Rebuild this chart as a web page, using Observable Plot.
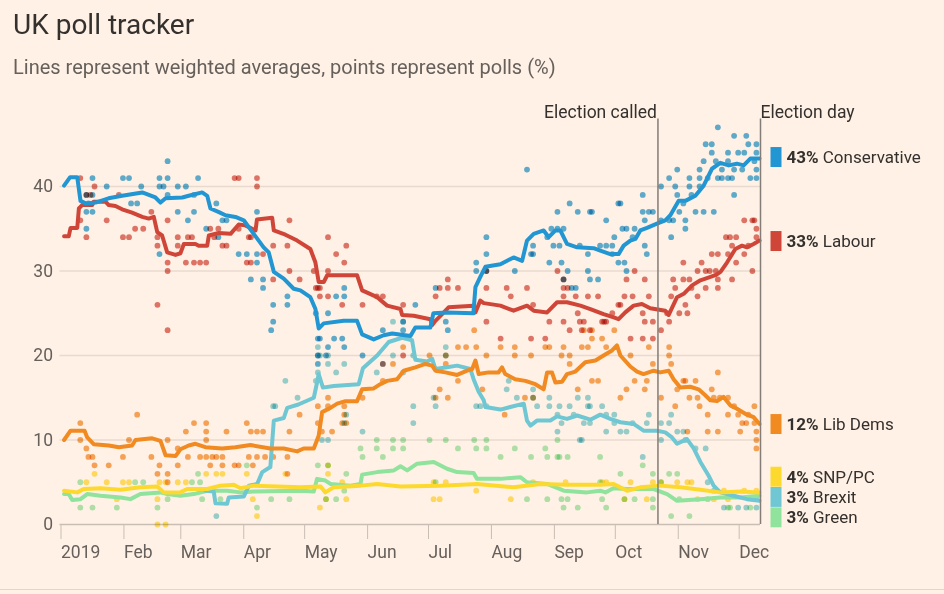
<!DOCTYPE html>
<html><head><meta charset="utf-8">
<script src="https://cdn.jsdelivr.net/npm/d3@7"></script>
<script src="https://cdn.jsdelivr.net/npm/@observablehq/plot@0.6"></script>
<style>
html,body{margin:0;padding:0;background:#fff1e5;}
body{width:944px;height:594px;overflow:hidden;position:relative;font-family:Roboto,sans-serif;}
#title{position:absolute;left:13px;top:8px;font-size:28px;color:#33302e;white-space:nowrap;}
#subtitle{position:absolute;left:13px;top:55px;font-size:20px;color:#66605c;white-space:nowrap;}
#chart{position:absolute;left:0;top:90px;}
#rule{position:absolute;left:0;top:589px;width:944px;height:1px;background:#e3d6ca;}
</style></head>
<body>
<div id="title">UK poll tracker</div>
<div id="subtitle">Lines represent weighted averages, points represent polls (%)</div>
<div id="chart"></div>
<div id="rule"></div>
<script>
// ---- DATA (day = days after 1 Jan 2019) ----
const parties = ["Conservative","Labour","Lib Dems","SNP/PC","Brexit","Green"];
const colors  = ["#2196d3","#cf4639","#f08a21","#fdd92e","#6fc7d3","#8fe39c"];
const finalPct = [43,33,12,4,3,3];
const labelY  = [43.43,33.49,11.83,5.6,3.2,0.79];
const monthTickLabels = ["2019","Feb","Mar","Apr","May","Jun","Jul","Aug","Sep","Oct","Nov","Dec"];
const eventNames = ["Election called","Election day"];
const eventDays  = [294.5,345];
const yTicks = [0,10,20,30,40];

const conLine = [[2,40.1],[5,41.1],[8.5,41.1],[10.1,38.3],[12.6,38.0],[17.5,38.1],[23.9,38.6],[30.6,38.9],[40.5,39.3],[47,38.7],[49.5,38.1],[52,38.6],[60.2,38.7],[63.4,38.9],[70,39.3],[72.5,38.9],[74.1,37.4],[78,37.0],[81.5,36.6],[86.4,36.4],[90.5,36.0],[95.4,34.4],[100.3,32.8],[102.8,32.2],[105.3,29.9],[110.2,29.1],[115.1,27.9],[118.4,27.7],[123.3,26.9],[125.8,25.5],[127.4,23.2],[129.9,23.8],[139.7,24.1],[146.3,24.1],[148.8,22.5],[154.5,21.9],[159.4,22.4],[163.6,22.6],[172.6,22.3],[175,23.3],[182.4,23.3],[183.9,25.0],[190.6,25.1],[203.6,25.0],[204.6,28.1],[207,29.3],[209.5,30.5],[216.9,30.8],[223.4,31.6],[227.6,31.2],[230,33.6],[233.3,34.4],[238.2,34.8],[240.7,34.0],[244,34.8],[246.4,34.8],[249.7,33.2],[254.7,32.8],[262.8,32.7],[266.1,32.4],[271,32.0],[275.1,32.0],[277.6,33.0],[280.9,33.6],[283.4,33.8],[285.8,34.8],[289.1,35.1],[294,35.6],[298.1,36.0],[300.6,36.6],[304.7,38.3],[308,38.3],[312.9,38.9],[317,40.1],[321.1,42.1],[325.2,42.8],[329.3,42.5],[333.4,42.7],[336.7,42.5],[340,43.3],[344.5,43.3]];
const labLine = [[2,34.1],[4.3,34.1],[5.2,35.1],[8.5,35.1],[9.3,37.4],[10.9,37.8],[15.9,37.8],[16.6,38.2],[22.4,38.2],[24,37.8],[27.3,37.7],[30.6,37.3],[35.5,36.9],[40.5,36.4],[43.7,36.2],[46.2,36.4],[47.9,34.6],[50.3,34.2],[52.8,32.2],[56.9,31.9],[59.3,32.1],[61,33.2],[66.7,33.2],[68.3,33.0],[72.5,33.0],[73.3,34.2],[78.2,34.5],[84,34.4],[88,35.5],[91.3,35.4],[96.3,34.8],[97,36.1],[104.5,36.3],[105.3,34.8],[111,34.3],[116.8,33.6],[123.3,32.6],[125.8,31.0],[127.4,28.7],[129.9,28.7],[131.6,29.5],[146.3,29.5],[148.8,27.7],[156.2,26.9],[161.1,25.9],[167.7,25.5],[168.5,24.8],[174.2,24.7],[182.4,24.3],[183.3,23.6],[184.9,24.1],[188.2,24.9],[191.4,25.7],[203.7,25.9],[204.6,25.1],[207,26.5],[208.7,26.2],[216.9,25.9],[223.4,25.3],[230,25.9],[233.3,25.3],[239.9,25.1],[244.8,26.3],[249.7,26.3],[256.3,25.9],[261.2,25.5],[267.7,24.9],[272.7,24.5],[275.1,24.3],[278.4,25.1],[282.5,25.9],[286.6,26.1],[290.7,25.6],[298.1,25.3],[299.8,24.8],[303.9,26.9],[307.2,27.3],[311.3,28.3],[315.4,28.9],[317.9,29.1],[322.8,29.5],[325.3,29.9],[328.5,31.0],[332.6,32.6],[335.9,33.0],[338.3,32.8],[341.6,33.2],[344.5,33.6]];
const ldLine = [[2,10.0],[5.2,11.1],[12.1,11.1],[13.4,10.3],[16.6,9.5],[24,9.35],[29,9.15],[35.5,9.35],[37.2,10.0],[45.4,10.2],[49.5,9.9],[52,8.2],[56.9,8.1],[59.3,8.9],[63.4,9.35],[66.7,9.55],[71.6,9.15],[79.9,9.0],[86.4,9.15],[93.8,9.4],[103.6,9.0],[110.2,9.0],[116.8,8.65],[120,9.0],[125,9.0],[127.4,10.5],[129.1,13.3],[133.2,13.8],[136.5,14.3],[140.6,14.6],[146.3,14.6],[148.8,16.0],[154.5,16.1],[157,16.5],[161.1,17.0],[166,17.2],[169.3,18.2],[175,18.6],[180,19.0],[183.3,18.8],[184.9,18.2],[189.8,18.0],[195.6,17.7],[200.5,18.2],[203,18.4],[204.6,19.4],[206.2,17.8],[211.1,18.0],[216,18.0],[217.7,18.6],[219.3,17.8],[224.2,17.2],[229.2,17.0],[234.1,16.6],[238.2,16.0],[239.9,18.0],[242.3,18.0],[244,16.8],[247.3,16.9],[249.7,17.8],[253.8,18.1],[258.7,19.2],[263.7,19.4],[267.7,20.0],[271.9,20.6],[274.3,21.2],[276,20.0],[280.9,18.7],[284.2,18.1],[287.4,17.8],[292.4,18.2],[295.6,18.0],[299.8,18.2],[302.2,17.2],[305.5,16.2],[310.4,16.3],[314.5,16.0],[317.8,15.3],[320.3,14.7],[323.6,14.6],[326.8,15.1],[330.1,14.1],[333.4,13.7],[337.5,13.1],[341.6,12.7],[344.5,11.9]];
const snpLine = [[2,4.0],[8.5,3.8],[11.7,4.2],[19.9,4.3],[29.8,4.1],[39.6,4.4],[47.9,4.5],[51.1,3.8],[59.3,3.8],[62.6,4.2],[72.5,4.2],[79,4.6],[85.6,4.7],[88.9,4.3],[95.4,4.6],[118.4,4.4],[128.3,4.5],[130.7,3.8],[134.8,4.4],[148,4.6],[156.2,4.8],[167.7,4.5],[187.3,4.6],[205.4,4.8],[223.4,4.4],[236.6,4.8],[249.7,4.7],[266.1,4.7],[272.7,4.8],[279.3,4.0],[285.8,4.4],[295.6,4.6],[305.5,4.4],[315.4,4.1],[325.2,3.8],[335,3.9],[344.5,3.8]];
const brxLine = [[71.6,4.0],[75.7,3.9],[76.6,2.5],[82.3,2.45],[83.1,3.2],[90.5,3.3],[93,4.6],[97.1,4.8],[99.6,6.2],[103.6,6.8],[105.3,12.3],[110.2,12.6],[111.9,13.8],[117.4,14.2],[125,15.0],[126.6,16.8],[127.4,17.8],[129.5,16.2],[134.8,16.4],[147.1,16.6],[149.2,18.5],[156.2,20.0],[161.9,21.6],[168.5,22.1],[173.4,21.8],[175,19.5],[180.8,19.3],[183.3,19.6],[184.9,18.4],[190.6,18.6],[195.6,18.8],[202.1,18.4],[203.7,17.2],[206.2,15.7],[208.7,14.7],[209.5,13.9],[216.9,13.6],[221.8,13.9],[228.4,14.3],[230,12.3],[231.7,11.7],[234.9,12.3],[241.5,12.3],[244.8,12.8],[249.7,12.5],[254.7,12.9],[261.2,12.4],[266.1,13.0],[271,12.5],[276,12.1],[282.5,11.9],[287.4,11.1],[294,11.1],[298.1,10.9],[301.4,10.3],[303.9,9.55],[308.8,10.1],[312.1,9.0],[315.4,7.4],[319.4,5.8],[321.9,4.6],[325.2,3.8],[331.8,3.4],[338.3,3.0],[344.5,2.8]];
const grnLine = [[2,3.6],[4.3,3.6],[6,2.9],[10.1,3.0],[13.4,3.6],[19.9,3.4],[29.8,3.2],[34.7,3.0],[39.6,3.6],[49.5,3.8],[52.8,3.6],[59.3,3.4],[65.9,3.6],[72.5,4.0],[82.3,4.0],[88.9,3.8],[95.4,3.9],[118.4,4.0],[125,3.9],[126.6,5.4],[130.7,5.2],[133.2,4.8],[143,4.6],[148,4.8],[148.8,5.9],[156.2,6.2],[164.4,6.4],[167.7,6.9],[171,6.4],[175.9,7.2],[184.1,7.4],[190.6,6.6],[195.6,6.2],[203.7,6.1],[205.4,5.4],[216.9,5.4],[226.7,5.6],[230,5.0],[239.9,4.8],[248.1,4.0],[259.6,3.8],[266.1,4.0],[268.6,3.8],[272.5,4.3],[279.3,4.2],[292.4,4.2],[299,3.6],[303.9,2.8],[315.4,3.0],[325.2,3.2],[335,3.2],[344.5,3.4]];

const conPolls = [[13,39],[13,37],[13,35],[14,38],[16,41],[16,39],[16,37],[23,40],[31,41],[34,41],[35,38],[38,38],[40,40],[49,41],[49,40],[49,32],[51,40],[53,43],[53,41],[53,39],[58,40],[58,37],[62,40],[63,36],[66,39],[66,37],[68,41],[72,35],[77,38],[78,34],[80,36],[82,36],[88,32],[92,32],[97,37],[97,32],[97,31],[94,29],[100,29],[100,28],[105,26],[105,24],[104,23],[112,27],[112,26],[126,25],[127,22],[128,22],[132,21],[135,22],[139,22],[140,21],[140,28],[136,27],[140,27],[132,25],[127,20],[131,20],[127,19],[149,20],[159,23],[169,24],[169,23],[175,26],[185,28],[191,23],[190,24],[205,31],[210,34],[210,32],[210,30],[205,30],[230,42],[232,32],[233,32],[233,33],[241,31],[245,37],[251,38],[255,37],[262,37],[269,36],[275,38],[273,34],[275,31],[260,32],[246,33],[247,31],[248,29],[250,30],[254,28],[240,34],[242,35],[245,35],[248,35],[224,30],[243,33],[252,28],[261,37],[276,38],[277,35],[279,35],[283,35],[287,39],[287,37],[290,37],[292,37],[288,36],[282,34],[269,33],[272,33],[272,32],[278,31],[279,30],[289,32],[288,33],[266,33],[256,33],[261,29],[260,30],[265,29],[296,40],[300,41],[296,36],[300,36],[302,36],[301,34],[303,40],[304,39],[307,38],[305,37],[308,36],[308,35],[304,42],[310,41],[310,40],[311,39],[313,37],[317,37],[315,42],[319,41],[317,43],[318,45],[321,45],[321,44],[324,47],[322,37],[323,43],[326,42],[324,41],[326,41],[329,41],[329,43],[332,46],[329,44],[334,44],[337,44],[338,46],[339,45],[343,45],[343,44],[342,43],[343,42],[340,41],[343,41],[332,42],[336,42],[331,41],[315,40],[315,41],[332,39]];
const labPolls = [[10,41],[17,40],[13,39],[15,39],[10,36],[13,34],[23,36],[29,39],[31,34],[34,34],[37,35],[41,35],[45,37],[53,36],[48,34],[48,33],[53,31],[53,30],[48,26],[53,23],[58,34],[58,33],[63,34],[65,34],[62,31],[66,31],[69,31],[72,31],[74,35],[78,35],[76,34],[80,33],[82,33],[86,41],[88,41],[97,41],[97,40],[113,36],[105,33],[112,33],[118,29],[126,28],[105,29],[92,31],[94,34],[88,35],[100,32],[93,34],[94,31],[113,30],[132,34],[136,32],[141,33],[140,31],[125,30],[132,30],[127,28],[128,28],[128,27],[132,27],[139,26],[156,27],[159,27],[169,26],[149,26],[159,19],[169,20],[191,29],[191,28],[196,28],[187,28],[185,27],[210,30],[210,28],[220,28],[222,27],[230,28],[233,26],[245,30],[248,29],[248,28],[250,28],[248,27],[254,27],[260,27],[265,27],[275,26],[210,24],[217,22],[232,22],[239,22],[255,25],[258,24],[267,24],[269,24],[241,24],[251,23],[261,23],[248,24],[283,30],[279,29],[288,29],[278,27],[282,27],[290,27],[276,26],[272,25],[287,25],[256,24],[268,24],[288,24],[292,24],[300,24],[257,23],[281,22],[287,22],[292,22],[296,23],[302,29],[303,28],[307,29],[307,31],[310,29],[311,28],[314,30],[314,27],[316,31],[318,30],[320,30],[323,30],[324,29],[318,28],[324,28],[321,32],[324,32],[329,32],[328,34],[330,34],[331,33],[333,34],[337,36],[341,36],[342,36],[343,35],[343,34],[339,33],[337,32],[331,29],[341,30],[333,31],[299,25],[305,25],[309,25],[308,26],[301,27]];
const ldPolls = [[10,12],[10,10],[13,9],[14,8],[16,8],[17,7],[24,7],[38,13],[34,10],[31,8],[45,8],[49,7],[48,6],[53,6],[53,5],[53,10],[58,9],[58,7],[62,11],[63,8],[66,12],[69,8],[72,12],[72,11],[72,10],[72,8],[74,7],[75,8],[77,8],[80,8],[80,7],[82,11],[86,7],[88,7],[92,12],[94,11],[97,11],[100,11],[93,8],[97,8],[101,8],[105,8],[112,8],[113,11],[118,13],[95,7],[112,6],[127,14],[132,15],[132,14],[140,14],[140,13],[141,12],[129,11],[134,11],[139,12],[127,12],[149,15],[159,17],[164,19],[169,21],[204,23],[182,20],[190,20],[190,19],[196,21],[200,21],[205,21],[210,20],[217,21],[224,21],[224,20],[232,20],[239,21],[241,21],[248,21],[247,20],[251,20],[251,19],[257,21],[196,17],[187,16],[185,15],[191,15],[208,16],[219,13],[229,15],[233,15],[255,16],[258,23],[262,23],[260,21],[262,22],[267,22],[269,21],[273,23],[281,20],[290,21],[292,19],[300,21],[300,20],[301,19],[262,17],[265,17],[276,15],[279,16],[283,17],[289,17],[288,16],[296,15],[304,16],[303,14],[307,17],[308,17],[313,17],[314,15],[310,15],[321,16],[324,18],[322,15],[325,15],[329,15],[319,13],[332,14],[334,13],[336,12],[338,12],[339,13],[342,12],[343,11],[343,10],[343,9],[342,14],[329,13],[315,14],[309,11],[319,11],[324,11],[335,11]];
const snpPolls = [[13,5],[17,6],[23,5],[31,5],[34,5],[49,5],[52,5],[48,3],[48,0],[52,0],[58,5],[62,5],[72,6],[77,6],[80,6],[28,3],[92,6],[97,1],[95,3],[111,6],[128,2],[132,7],[141,3],[132,6],[139,5],[131,3],[184,3],[187,3],[184,5],[190,5],[233,5],[222,3],[249,5],[205,4],[267,5],[269,5],[281,5],[292,5],[296,5],[304,5],[309,5],[311,5],[327,4],[337,4],[343,4],[314,3],[322,3],[329,3],[278,3],[289,3]];
const brxPolls = [[77,1],[111,17],[105,14],[106,14],[117,15],[126,17],[127,21],[127,20],[132,19],[127,18],[136,18],[140,19],[140,12],[141,13],[129,10],[132,10],[149,11],[156,18],[164,24],[169,24],[159,19],[128,20],[132,20],[164,20],[169,18],[174,20],[174,14],[184,15],[207,14],[210,14],[221,17],[225,15],[233,15],[241,15],[245,13],[253,13],[258,12],[255,15],[260,15],[269,13],[273,13],[205,14],[185,14],[174,12],[190,21],[190,20],[220,16],[233,16],[241,14],[246,14],[245,11],[247,12],[251,14],[257,10],[235,14],[260,14],[261,14],[267,14],[261,12],[269,11],[273,12],[276,11],[279,11],[282,12],[289,12],[290,13],[287,8],[296,12],[300,12],[301,13],[296,10],[304,11],[307,11],[308,10],[313,9],[318,9],[256,10],[319,5],[322,4],[327,2],[334,2],[338,2],[343,3],[343,2]];
const grnPolls = [[10,5],[10,2],[16,2],[28,2],[37,5],[41,5],[53,3],[48,2],[68,6],[65,5],[69,5],[70,3],[79,3],[92,7],[97,2],[104,3],[113,3],[127,7],[132,7],[131,3],[136,3],[140,4],[149,8],[156,9],[159,8],[164,9],[169,9],[141,6],[148,9],[156,10],[164,10],[169,10],[182,10],[190,10],[204,10],[210,10],[196,9],[205,9],[210,9],[217,8],[224,9],[232,8],[240,8],[245,8],[246,8],[250,8],[239,9],[245,10],[266,8],[185,5],[230,3],[240,3],[247,3],[250,3],[255,2],[248,2],[269,2],[267,3],[266,5],[276,6],[287,7],[292,6],[296,5],[300,6],[304,6],[301,1],[310,1],[292,2],[278,3],[283,3],[292,3],[305,3],[319,3],[329,2],[330,2],[340,2]];

// ---- BUILD ----
const start = Date.UTC(2019,0,1);
const toDate = d => new Date(start + d*864e5);
const colorOf = Object.fromEntries(parties.map((p,i)=>[p,colors[i]]));
const lineSets = [conLine,labLine,ldLine,snpLine,brxLine,grnLine];
const pollSets = [conPolls,labPolls,ldPolls,snpPolls,brxPolls,grnPolls];
const lines = [], polls = [];
lineSets.forEach((s,i)=>s.forEach(([d,v])=>lines.push({party:parties[i],date:toDate(d),v})));
pollSets.forEach((s,i)=>s.forEach(([d,v])=>polls.push({party:parties[i],date:toDate(d),v})));
const labels = parties.map((p,i)=>({party:p,pct:finalPct[i],y:labelY[i],color:colors[i]}));
const events = eventNames.map((n,i)=>({name:n,date:toDate(eventDays[i])}));
const endDate = toDate(345);
const months = d3.utcMonths(new Date(start), toDate(340));
const drawOrder = ["Green","Brexit","SNP/PC","Lib Dems","Labour","Conservative"];
const FONT = 'Roboto, sans-serif';

const chart = Plot.plot({
  width: 944, height: 504,
  marginLeft: 59.5, marginRight: 184, marginTop: 28.4, marginBottom: 70,
  style: {background: "transparent", fontFamily: FONT, overflow: "visible"},
  x: {type: "utc", domain: [new Date(start), endDate], axis: null},
  y: {domain: [0, 48], axis: null},
  marks: [
    Plot.ruleY(yTicks.filter(t=>t>0), {stroke: "#e8dace", strokeWidth: 1.3}),
    Plot.ruleY([0], {stroke: "#c9beb4", strokeWidth: 1.3}),
    Plot.axisY({ticks: yTicks, tickSize: 0, tickPadding: 7, fontSize: 17.5, fill: "#66605c", tickFormat: d=>String(d)}),
    Plot.axisX({ticks: months, tickSize: 15, tickPadding: 6, stroke: "#c9beb4", fill: "#66605c", fontSize: 17.5, textAnchor: "start", dx: 1,
      tickFormat: d=>monthTickLabels[d.getUTCMonth()]}),
    Plot.dot(polls, {x: "date", y: "v", fill: d=>colorOf[d.party], r: 2.9, fillOpacity: 0.72, mixBlendMode: "multiply"}),
    ...drawOrder.map(p => Plot.line(lines.filter(d=>d.party===p), {x: "date", y: "v", stroke: colorOf[p], strokeWidth: 4, strokeLinejoin: "round", strokeLinecap: "round"})),
    Plot.ruleX(events, {x: "date", stroke: "#847c77", strokeWidth: 1.5}),
    Plot.text(events.filter(d=>d.name==="Election called"), {x: "date", frameAnchor: "top", text: "name", dy: -13, dx: -1, fontSize: 17.5, fill: "#33302e", textAnchor: "end"}),
    Plot.text(events.filter(d=>d.name==="Election day"), {x: "date", frameAnchor: "top", text: "name", dy: -13, dx: 0, fontSize: 17.5, fill: "#33302e", textAnchor: "start"}),
    Plot.ruleX(labels, {x: ()=>endDate, y1: d=>d.y-1.18, y2: d=>d.y+1.18, stroke: "color", strokeWidth: 11, dx: 15.5}),
    Plot.text(labels, {x: ()=>endDate, y: "y", text: d=>`${d.pct}%|${d.party}`, textAnchor: "start", dx: 26, fontSize: 17, fill: "#33302e", className: "plabel"})
  ]
});
document.getElementById("chart").appendChild(chart);
// bold percentage part of right-hand labels
d3.select(chart).selectAll(".plabel text").each(function(){
  const [pct, name] = this.textContent.split("|");
  const t = d3.select(this); t.text(null);
  t.append("tspan").attr("font-weight", "bold").text(pct);
  t.append("tspan").text(" " + name);
});
</script>
</body></html>
